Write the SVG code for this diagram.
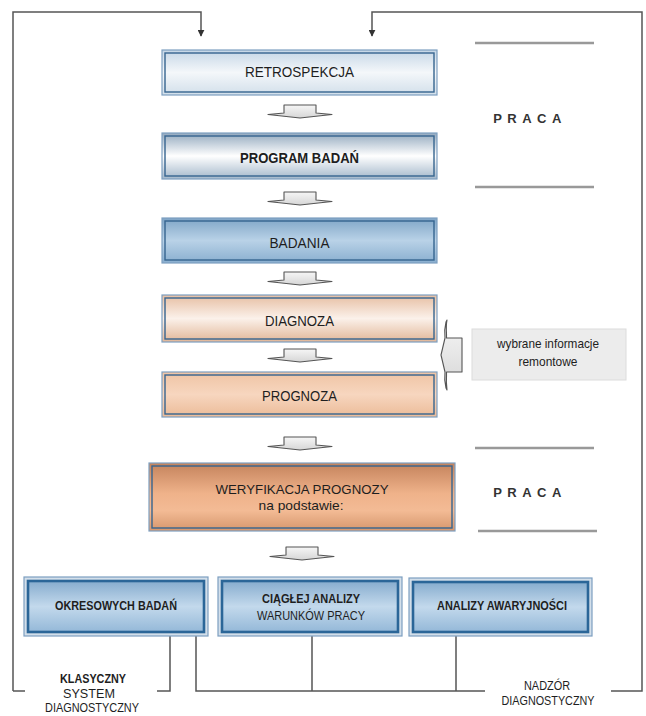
<svg xmlns="http://www.w3.org/2000/svg" width="646" height="716" viewBox="0 0 646 716">
<style>
text{font-family:"Liberation Sans",Arial,sans-serif;fill:#1e1e1e;text-anchor:middle}
.lbl{font-size:15px}
.b{font-weight:bold}
.sm{font-size:13px}
.xs{font-size:12px}
.praca{font-size:13px;font-weight:bold;letter-spacing:5.5px;fill:#333}
.outer{stroke:#7d9fc0;stroke-width:1.2}
.inner{fill:none;stroke:#36648f;stroke-width:1.4}
.binner{stroke:#2b6698;stroke-width:2.6}
.conn{fill:none;stroke:#555;stroke-width:1.5}
.rule{stroke:#999;stroke-width:2.5}
.sarr{fill:url(#gArr);stroke:#555;stroke-width:1.1;stroke-linejoin:round}
</style>
<defs>
<linearGradient id="gRetro" x1="0" y1="0" x2="0" y2="1"><stop offset="0" stop-color="#c5d6e6"/><stop offset="0.5" stop-color="#f4f7fa"/><stop offset="1" stop-color="#d2dfea"/></linearGradient>
<linearGradient id="gProg" x1="0" y1="0" x2="0" y2="1"><stop offset="0" stop-color="#93a9be"/><stop offset="0.5" stop-color="#ffffff"/><stop offset="1" stop-color="#a3b7ca"/></linearGradient>
<linearGradient id="gBad" x1="0" y1="0" x2="0" y2="1"><stop offset="0" stop-color="#7fa5c7"/><stop offset="0.5" stop-color="#b9d2e7"/><stop offset="1" stop-color="#89aecf"/></linearGradient>
<linearGradient id="gDiag" x1="0" y1="0" x2="0" y2="1"><stop offset="0" stop-color="#e6bea2"/><stop offset="0.5" stop-color="#fbf1ea"/><stop offset="1" stop-color="#e1b697"/></linearGradient>
<linearGradient id="gPrgn" x1="0" y1="0" x2="0" y2="1"><stop offset="0" stop-color="#efc4a4"/><stop offset="0.5" stop-color="#f7d6bf"/><stop offset="1" stop-color="#ebbb98"/></linearGradient>
<linearGradient id="gWer" x1="0" y1="0" x2="0" y2="1"><stop offset="0" stop-color="#c4835c"/><stop offset="0.45" stop-color="#efb28a"/><stop offset="0.7" stop-color="#f3bb95"/><stop offset="1" stop-color="#d6966c"/></linearGradient>
<linearGradient id="gBot" x1="0" y1="0" x2="0" y2="1"><stop offset="0" stop-color="#86acce"/><stop offset="0.5" stop-color="#c3d9ec"/><stop offset="1" stop-color="#94b8d8"/></linearGradient>
<linearGradient id="gArr" x1="0" y1="0" x2="0" y2="1"><stop offset="0" stop-color="#f6f6f6"/><stop offset="1" stop-color="#d6d6d6"/></linearGradient>
<marker id="ah" viewBox="0 0 10 10" refX="9" refY="5" markerWidth="7" markerHeight="7" orient="auto" markerUnits="userSpaceOnUse"><path d="M0,0 L10,5 L0,10 Z" fill="#333"/></marker>
<path id="sarrow" class="sarr" d="M284,8 V0 H316 V8 L332,9.5 L300,13 L268,9.5 Z"/>
</defs>
<rect width="646" height="716" fill="#fff"/>

<g id="connectors">
<path class="conn" d="M13,691 H25 M13,691 V12 H201 V36" marker-end="url(#ah)"/>
<path class="conn" d="M611,691 H642 V12 H372 V36" marker-end="url(#ah)"/>
<path class="conn" d="M157,691 H170 V636"/>
<path class="conn" d="M196,636 V691 H485 M312,636 V691 M456,636 V691"/>
<use href="#sarrow" y="105"/>
<use href="#sarrow" y="192"/>
<use href="#sarrow" y="272"/>
<use href="#sarrow" y="349"/>
<use href="#sarrow" y="437"/>
<use href="#sarrow" y="547" x="2"/>
<path class="sarr" d="M462,338 H446.5 V334 Q446,325 447,320 L446,322 Q444,330 445,338 L441,355 L445,372 Q444,380 446,388 L447,390 Q446,382 446.5,376 V372 H462 Z"/>
</g>

<g id="rules">
<line class="rule" x1="475" y1="43" x2="594" y2="43"/>
<line class="rule" x1="475" y1="187" x2="594" y2="187"/>
<line class="rule" x1="475" y1="448" x2="594" y2="448"/>
<line class="rule" x1="478" y1="531" x2="597" y2="531"/>
<text class="praca" x="530" y="123">PRACA</text>
<text class="praca" x="530" y="497">PRACA</text>
</g>

<g id="retrospekcja">
<rect class="outer" x="162" y="50" width="275" height="45" fill="url(#gRetro)"/>
<rect class="inner" x="165" y="53" width="269" height="39"/>
<text class="lbl" x="299.5" y="77" textLength="109" lengthAdjust="spacingAndGlyphs">RETROSPEKCJA</text>
</g>
<g id="program">
<rect class="outer" x="162" y="133" width="275" height="46" fill="url(#gProg)"/>
<rect class="inner" x="165" y="136" width="269" height="40"/>
<text class="lbl b" x="299.5" y="163" textLength="119" lengthAdjust="spacingAndGlyphs">PROGRAM BADAŃ</text>
</g>
<g id="badania">
<rect class="outer" x="162" y="218" width="275" height="45" fill="url(#gBad)"/>
<rect class="inner" x="165" y="221" width="269" height="39"/>
<text class="lbl" x="299.5" y="248" textLength="60" lengthAdjust="spacingAndGlyphs">BADANIA</text>
</g>
<g id="diagnoza">
<rect class="outer" x="162" y="295" width="275" height="47" fill="url(#gDiag)"/>
<rect class="inner" x="165" y="298" width="269" height="41"/>
<text class="lbl" x="299.5" y="326" textLength="69" lengthAdjust="spacingAndGlyphs">DIAGNOZA</text>
</g>
<g id="prognoza">
<rect class="outer" x="162" y="372" width="275" height="45" fill="url(#gPrgn)"/>
<rect class="inner" x="165" y="375" width="269" height="39"/>
<text class="lbl" x="299.5" y="401" textLength="75" lengthAdjust="spacingAndGlyphs">PROGNOZA</text>
</g>
<g id="wybrane">
<rect x="472" y="329" width="154" height="51" fill="#ececec" stroke="#dcdcdc" stroke-width="1"/>
<text style="font-size:13px" x="548" y="348" textLength="102" lengthAdjust="spacingAndGlyphs">wybrane informacje</text>
<text style="font-size:13px" x="548" y="366" textLength="59" lengthAdjust="spacingAndGlyphs">remontowe</text>
</g>
<g id="weryfikacja">
<rect class="outer" x="149" y="463" width="306" height="68" fill="url(#gWer)"/>
<rect class="inner" x="152" y="466" width="300" height="62"/>
<text style="font-size:13.5px" x="302" y="494" textLength="173" lengthAdjust="spacingAndGlyphs">WERYFIKACJA PROGNOZY</text>
<text style="font-size:13.5px" x="301" y="510" textLength="85" lengthAdjust="spacingAndGlyphs">na podstawie:</text>
</g>
<g id="okresowych">
<rect class="outer" x="24" y="577" width="184" height="59" fill="#d3dfea"/>
<rect class="binner" x="28" y="581" width="176" height="51" fill="url(#gBot)"/>
<text class="sm b" x="116" y="610" textLength="122" lengthAdjust="spacingAndGlyphs">OKRESOWYCH BADAŃ</text>
</g>
<g id="ciaglej">
<rect class="outer" x="218" y="577" width="184" height="59" fill="#d3dfea"/>
<rect class="binner" x="222" y="581" width="176" height="51" fill="url(#gBot)"/>
<text class="sm b" x="311" y="603" textLength="98" lengthAdjust="spacingAndGlyphs">CIĄGŁEJ ANALIZY</text>
<text class="sm" x="311" y="620" textLength="108" lengthAdjust="spacingAndGlyphs">WARUNKÓW PRACY</text>
</g>
<g id="awaryjnosci">
<rect class="outer" x="409" y="578" width="183" height="58" fill="#d3dfea"/>
<rect class="binner" x="413" y="582" width="175" height="50" fill="url(#gBot)"/>
<text class="sm b" x="502" y="610" textLength="130" lengthAdjust="spacingAndGlyphs">ANALIZY AWARYJNOŚCI</text>
</g>
<g id="klasyczny">
<text class="xs b" x="93" y="683" textLength="66" lengthAdjust="spacingAndGlyphs">KLASYCZNY</text>
<text class="xs" x="89" y="698" textLength="52" lengthAdjust="spacingAndGlyphs">SYSTEM</text>
<text class="xs" x="92" y="712" textLength="94" lengthAdjust="spacingAndGlyphs">DIAGNOSTYCZNY</text>
</g>
<g id="nadzor">
<text class="xs" x="547" y="690" textLength="46" lengthAdjust="spacingAndGlyphs">NADZÓR</text>
<text class="xs" x="548" y="705" textLength="93" lengthAdjust="spacingAndGlyphs">DIAGNOSTYCZNY</text>
</g>
</svg>
